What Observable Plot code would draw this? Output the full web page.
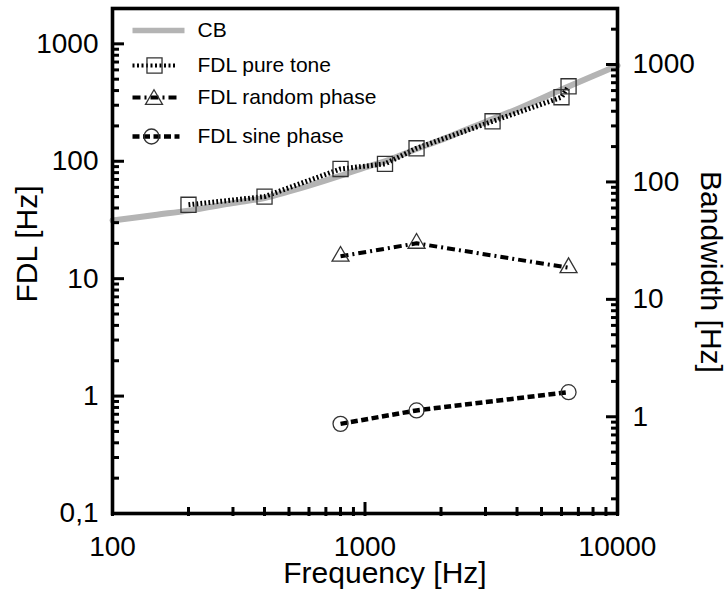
<!DOCTYPE html>
<html>
<head>
<meta charset="utf-8">
<script src="https://cdn.jsdelivr.net/npm/d3@7"></script>
<script src="https://cdn.jsdelivr.net/npm/@observablehq/plot@0.6"></script>
<style>
  body { margin: 0; background: #fff; }
  #chart svg { display: block; }
</style>
</head>
<body>
<div id="chart"></div>
<script>
// ---- data ----
const cbFreq      = [100, 150, 200, 300, 400, 500, 600, 800, 1000, 1200, 1600, 2000, 3200, 4000, 6000, 8000, 10000];
const cbBandwidth = [47, 52.6, 57, 66, 73, 83, 93, 113, 133, 150, 191, 228, 344, 416, 612, 798, 981]; // right axis units (Hz)

const pureFreq = [200, 400, 800, 1200, 1600, 3200, 6000, 6400];
const pureFDL  = [42.6, 50, 86, 95, 129, 219, 351, 435];

const randomFreq = [800, 1600, 6400];
const randomFDL  = [15.5, 20, 12.4];

const sineFreq = [800, 1600, 6400];
const sineFDL  = [0.58, 0.755, 1.08];

// ---- ticks ----
const xMajorTicks = [100, 1000, 10000];
const xMinorTicks = [200, 300, 400, 500, 600, 700, 800, 900, 2000, 3000, 4000, 5000, 6000, 7000, 8000, 9000];
const yLeftTicks = [0.1, 1, 10, 100, 1000];
const yLeftTickLabels = ["0,1", "1", "10", "100", "1000"];
const yLeftMinor = [0.2, 0.3, 0.4, 0.5, 0.6, 0.7, 0.8, 0.9, 2, 3, 4, 5, 6, 7, 8, 9,
                    20, 30, 40, 50, 60, 70, 80, 90, 200, 300, 400, 500, 600, 700, 800, 900];
const yRightTicks = [1, 10, 100, 1000];
const yRightTickLabels = ["1", "10", "100", "1000"];
const yRightMinor = [0.2, 0.3, 0.4, 0.5, 0.6, 0.7, 0.8, 0.9, 2, 3, 4, 5, 6, 7, 8, 9,
                     20, 30, 40, 50, 60, 70, 80, 90, 200, 300, 400, 500, 600, 700, 800, 900, 2000];
const bandwidthRatio = 1.5; // right-axis value = left-axis value * ratio

const legendLabels = ["CB", "FDL pure tone", "FDL random phase", "FDL sine phase"];

// ---- build tables ----
const cb = cbFreq.map((f, i) => ({f, v: cbBandwidth[i] / bandwidthRatio}));
const pure = pureFreq.map((f, i) => ({f, v: pureFDL[i]}));
const rnd = randomFreq.map((f, i) => ({f, v: randomFDL[i]}));
const sine = sineFreq.map((f, i) => ({f, v: sineFDL[i]}));
const rightTicks = yRightTicks.map((v, i) => ({v: v / bandwidthRatio, label: yRightTickLabels[i]}));
const leftTicks = yLeftTicks.map((v, i) => ({v, label: yLeftTickLabels[i]}));

const seg = {draw(ctx, l) { ctx.moveTo(0, 0); ctx.lineTo(0, -l); }};
const FONT = "'Liberation Sans', Arial, Helvetica, sans-serif";
const GRAY = "#b4b4b4";
const MK = "#333";

const W = 728, H = 603, ML = 112, MR = 111, MT = 8, MB = 90;
const FW = W - ML - MR, FH = H - MT - MB;

// legend layout (pixel offsets from top-left of frame)
const legendRows = [22, 57, 89, 128];

const tk = {stroke: "black", strokeWidth: 3, strokeLinecap: "butt"};

const plot = Plot.plot({
  width: W,
  height: H,
  marginLeft: ML,
  marginRight: MR,
  marginTop: MT,
  marginBottom: MB,
  style: {fontFamily: FONT, background: "#fff", color: "black"},
  x: {type: "log", domain: [100, 10000], axis: null},
  y: {type: "log", domain: [0.1, 2000], axis: null},
  marks: [
    // CB curve
    Plot.line(cb, {x: "f", y: "v", stroke: GRAY, strokeWidth: 6, curve: "catmull-rom"}),
    // FDL series
    Plot.line(pure, {x: "f", y: "v", stroke: "black", strokeWidth: 5, strokeDasharray: "1.8,2.2", strokeLinecap: "butt", strokeLinejoin: "miter"}),
    Plot.line(rnd, {x: "f", y: "v", stroke: "black", strokeWidth: 4, strokeDasharray: "8,4,2,4", strokeLinecap: "butt", strokeLinejoin: "miter"}),
    Plot.line(sine, {x: "f", y: "v", stroke: "black", strokeWidth: 4.5, strokeDasharray: "7,3.5", strokeLinecap: "butt", strokeLinejoin: "miter"}),
    Plot.dot(pure, {x: "f", y: "v", symbol: "square", r: 8.5, stroke: MK, strokeWidth: 1.3, fill: "none"}),
    Plot.dot(rnd, {x: "f", y: "v", symbol: "triangle", r: 6.3, stroke: MK, strokeWidth: 1.3, fill: "none"}),
    Plot.dot(sine, {x: "f", y: "v", symbol: "circle", r: 7.5, stroke: MK, strokeWidth: 1.3, fill: "none"}),

    // frame
    Plot.frame({stroke: "black", strokeWidth: 3.6}),

    // ticks: left axis (inward)
    Plot.tickY(yLeftTicks, {y: d => d, insetRight: FW - 12, ...tk}),
    Plot.tickY(yLeftMinor, {y: d => d, insetRight: FW - 7, ...tk}),
    // ticks: right axis (inward)
    Plot.tickY(yRightTicks, {y: d => d / bandwidthRatio, insetLeft: FW - 11, ...tk}),
    Plot.tickY(yRightMinor, {y: d => d / bandwidthRatio, insetLeft: FW - 6, ...tk}),
    // ticks: bottom axis (inward)
    Plot.tickX(xMajorTicks, {x: d => d, insetTop: FH - 11, insetBottom: -3, ...tk}),
    Plot.tickX(xMinorTicks, {x: d => d, insetTop: FH - 6, insetBottom: -3, ...tk}),

    // tick labels
    Plot.text(leftTicks, {y: "v", text: "label", frameAnchor: "left", dx: -14, textAnchor: "end", lineAnchor: "middle", fontSize: 28}),
    Plot.text(rightTicks, {y: "v", text: "label", frameAnchor: "right", dx: 15, textAnchor: "start", lineAnchor: "middle", fontSize: 28}),
    Plot.text(xMajorTicks, {x: d => d, text: d => String(d), frameAnchor: "bottom", dy: 23, textAnchor: "middle", lineAnchor: "top", fontSize: 28}),

    // axis titles
    Plot.text(["FDL [Hz]"], {text: d => d, frameAnchor: "left", dx: -85, dy: -17, rotate: -90, textAnchor: "middle", lineAnchor: "middle", fontSize: 30}),
    Plot.text(["Bandwidth [Hz]"], {text: d => d, frameAnchor: "right", dx: 93, dy: 11, rotate: 90, textAnchor: "middle", lineAnchor: "middle", fontSize: 30}),
    Plot.text(["Frequency [Hz]"], {text: d => d, frameAnchor: "bottom", dx: 20, dy: 60, textAnchor: "middle", lineAnchor: "middle", fontSize: 30}),

    // legend
    Plot.vector([legendLabels[0]], {frameAnchor: "top-left", dx: 20, dy: legendRows[0], length: 52, rotate: 90,
      shape: seg, anchor: "start", stroke: GRAY, strokeWidth: 5.5, strokeLinecap: "butt"}),
    Plot.vector([legendLabels[1]], {frameAnchor: "top-left", dx: 20, dy: legendRows[1], length: 45, rotate: 90,
      shape: seg, anchor: "start", stroke: "black", strokeWidth: 4, strokeDasharray: "2,2.5", strokeLinecap: "butt"}),
    Plot.vector([legendLabels[2]], {frameAnchor: "top-left", dx: 20, dy: legendRows[2], length: 45, rotate: 90,
      shape: seg, anchor: "start", stroke: "black", strokeWidth: 4, strokeDasharray: "8,4,2,4", strokeLinecap: "butt"}),
    Plot.vector([legendLabels[3]], {frameAnchor: "top-left", dx: 20, dy: legendRows[3], length: 47, rotate: 90,
      shape: seg, anchor: "start", stroke: "black", strokeWidth: 4.5, strokeDasharray: "7,3.5", strokeLinecap: "butt"}),
    Plot.dot([legendLabels[1]], {frameAnchor: "top-left", dx: 42, dy: legendRows[1], symbol: "square", r: 8.5, stroke: MK, strokeWidth: 1.3, fill: "none"}),
    Plot.dot([legendLabels[2]], {frameAnchor: "top-left", dx: 41.5, dy: legendRows[2] + 2, symbol: "triangle", r: 6.3, stroke: MK, strokeWidth: 1.3, fill: "none"}),
    Plot.dot([legendLabels[3]], {frameAnchor: "top-left", dx: 39, dy: legendRows[3], symbol: "circle", r: 7.5, stroke: MK, strokeWidth: 1.3, fill: "none"}),
    ...legendLabels.map((label, i) =>
      Plot.text([label], {text: d => d, frameAnchor: "top-left", dx: 85, dy: legendRows[i], textAnchor: "start", lineAnchor: "middle", fontSize: 21}))
  ]
});

document.getElementById("chart").appendChild(plot);
</script>
</body>
</html>
